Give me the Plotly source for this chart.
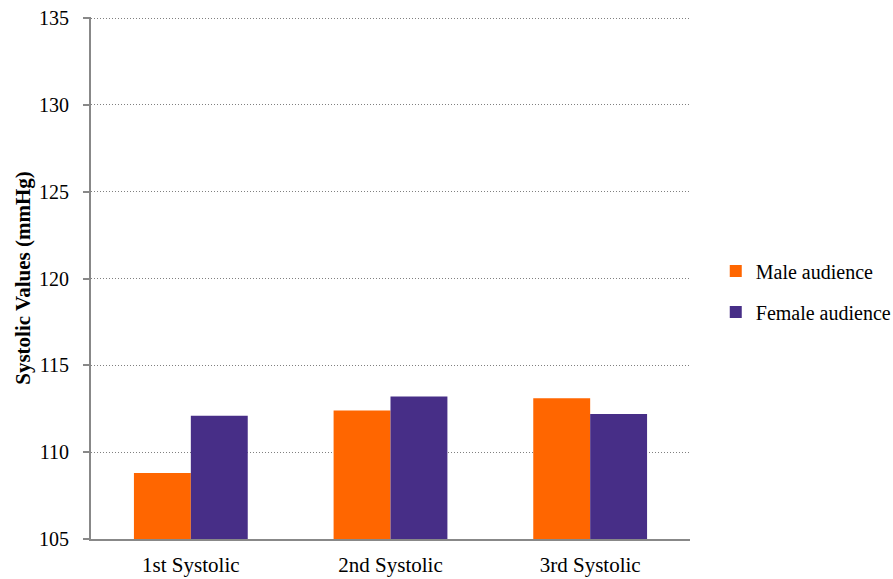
import plotly.graph_objects as go

categories = ["1st Systolic", "2nd Systolic", "3rd Systolic"]
male_values = [108.8, 112.4, 113.1]
female_values = [112.1, 113.2, 112.2]
y_ticks = [105, 110, 115, 120, 125, 130, 135]

SERIF = "Liberation Serif"

fig = go.Figure()
fig.add_trace(go.Bar(
    x=categories, y=male_values, name="Male audience",
    marker=dict(color="#FF6600", line=dict(width=0)),
    legendgroup="m",
))
fig.add_trace(go.Bar(
    x=categories, y=female_values, name="Female audience",
    marker=dict(color="#472E87", line=dict(width=0)),
    legendgroup="f",
))

fig.update_layout(
    width=893, height=579,
    margin=dict(l=91, r=203, t=17, b=40, autoexpand=False),
    paper_bgcolor="white", plot_bgcolor="white",
    barmode="group", bargap=0.43, bargroupgap=0,
    font=dict(family=SERIF, size=21, color="#000000"),
    legend=dict(
        x=1.043, y=0.474, xanchor="left", yanchor="middle",
        font=dict(family=SERIF, size=20),
        tracegroupgap=12, itemwidth=30,
        bgcolor="rgba(0,0,0,0)",
    ),
    showlegend=True,
)

fig.update_xaxes(
    showline=True, linecolor="#888888", linewidth=2,
    ticks="", showgrid=False, ticklabelstandoff=6,
    tickfont=dict(family=SERIF, size=21),
)
fig.update_yaxes(
    range=[105, 135.06], tickvals=y_ticks,
    showline=True, linecolor="#888888", linewidth=2,
    ticks="outside", ticklen=6, tickcolor="#888888", tickwidth=2,
    ticklabelstandoff=10,
    showgrid=True, gridcolor="#808080", gridwidth=1, griddash="1px,2px",
    zeroline=False,
    tickfont=dict(family=SERIF, size=20),
    title=dict(text="<b>Systolic Values (mmHg)</b>", font=dict(family=SERIF, size=21), standoff=3),
)

fig.write_html("out.html")
